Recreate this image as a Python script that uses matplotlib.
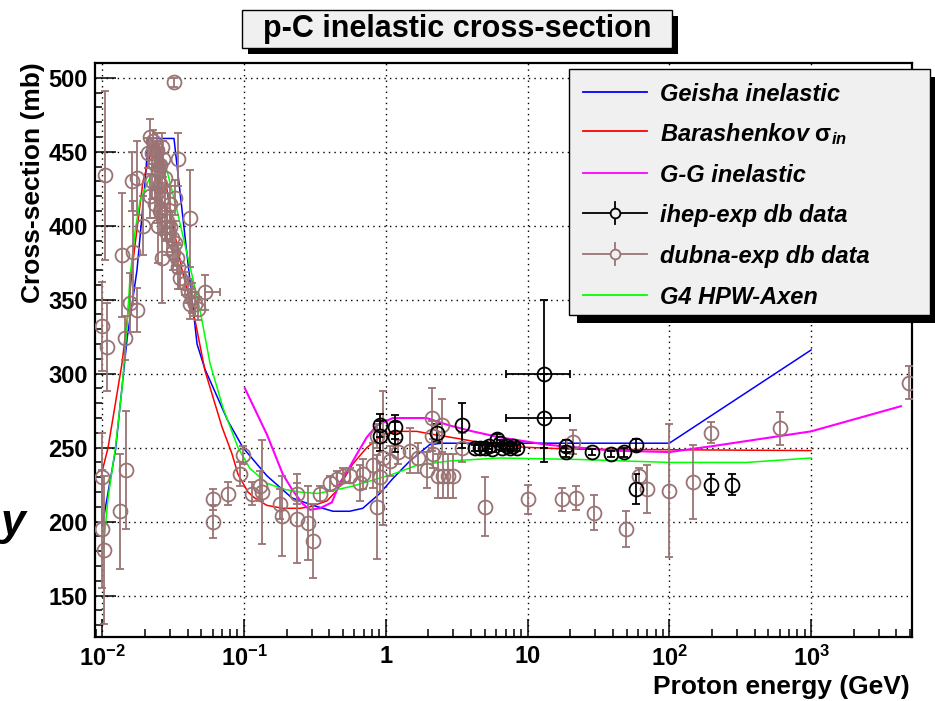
import numpy as np
import matplotlib.pyplot as plt
from matplotlib.patches import Rectangle
from matplotlib.lines import Line2D
from matplotlib.ticker import LogLocator, MultipleLocator, NullFormatter

plt.rcParams['font.family'] = ['Liberation Sans', 'DejaVu Sans']
plt.rcParams['font.weight'] = 'bold'
plt.rcParams['mathtext.fontset'] = 'custom'
plt.rcParams['mathtext.rm'] = 'Liberation Sans:bold'
plt.rcParams['mathtext.it'] = 'Liberation Sans:italic:bold'
plt.rcParams['mathtext.bf'] = 'Liberation Sans:bold'
plt.rcParams['mathtext.default'] = 'rm'

# model curves (energy in GeV, cross-section in mb)
geisha_e = [0.0100, 0.0124, 0.0150, 0.0176, 0.0201, 0.0211, 0.0321, 0.0467, 0.0531, 0.0771,
            0.0984, 0.145, 0.218, 0.306, 0.424, 0.557, 0.689, 0.907, 1.12, 1.48, 2.04, 2.5, 100, 1000]
geisha_s = [197, 248, 324, 370, 430, 459, 459, 320, 303, 268,
            250, 231, 216, 211, 207, 207, 209, 219, 229, 241, 252, 253, 253, 316]

barash_e = [0.0100, 0.0110, 0.0124, 0.0138, 0.0150, 0.0165, 0.0194, 0.0225, 0.0244, 0.0265,
            0.0301, 0.0366, 0.0452, 0.0531, 0.0700, 0.0822, 0.0908, 0.1067, 0.119, 0.145,
            0.188, 0.248, 0.292, 0.385, 0.452, 0.586, 0.735, 0.953, 1.26, 1.65, 2.14, 3.32,
            6.35, 20, 1000]
barash_s = [234, 250, 280, 307, 336, 376, 430, 452, 456, 447,
            410, 370, 336, 302, 264, 246, 232, 220, 216, 211,
            209, 209, 210, 214, 221, 239, 250, 259, 261, 261, 259, 256,
            251, 249, 248]

gg_e = [0.1016, 0.145, 0.188, 0.221, 0.260, 0.292, 0.343, 0.417, 0.474, 0.557, 0.62, 0.735,
        0.865, 1.12, 1.41, 1.94, 2.82, 4.10, 6.35, 13.6, 39.7, 100, 201, 1000, 4300]
gg_s = [290, 259, 232, 221, 212, 208, 209, 213, 226, 237, 245, 257,
        265, 270, 270, 270, 265, 261, 257, 252, 248, 247, 251, 261, 278]

axen_e = [0.0102, 0.0110, 0.0124, 0.0138, 0.0150, 0.0157, 0.0171, 0.0185, 0.0211, 0.0256,
          0.0287, 0.0338, 0.0397, 0.0490, 0.0576, 0.0711, 0.0908, 0.110, 0.145, 0.188,
          0.248, 0.327, 0.424, 0.586, 0.810, 1.12, 1.65, 2.82, 6.35, 23.2, 100, 349, 1000]
axen_s = [182, 216, 250, 290, 333, 365, 397, 417, 430, 447,
          437, 410, 381, 343, 307, 277, 250, 236, 226, 222,
          220, 219, 221, 224, 228, 232, 238, 241, 243, 242, 240, 240, 243]

# ihep-exp data
ihep_e = [0.91, 0.91, 1.16, 1.16, 2.29, 3.43, 4.24, 4.59, 4.98, 5.39, 5.66, 6.05, 6.35, 6.66,
          7.11, 7.47, 7.84, 8.38, 18.8, 18.8, 28.7, 39.1, 48.2, 58.6, 58.6, 198, 278]
ihep_s = [265, 258, 264, 257, 260, 265, 250, 250, 250, 251, 249, 256, 253, 250,
          251, 250, 251, 250, 251, 247, 247, 246, 247, 252, 222, 225, 225]
ihep_err = [8, 10, 8, 10, 6, 15, 2, 2, 2, 2, 2, 3, 2, 2,
            2, 2, 2, 2, 4, 3, 2, 2, 3, 4, 10, 7, 7]
ihep13_e = [13.0, 13.0]
ihep13_s = [300, 270]
ihep13_err = [50, 30]
ihep13_xlo = [6.0, 6.0]
ihep13_xhi = [6.8, 6.8]

# dubna-exp data
dubna_e = [0.0105, 0.0100, 0.0108, 0.0100, 0.0100, 0.0103, 0.0134, 0.0148, 0.0138, 0.0163,
           0.0176, 0.0165, 0.0176, 0.0157, 0.0145, 0.0194, 0.0321, 0.0417,
           0.0218, 0.0218, 0.0211, 0.0229, 0.0244, 0.0244, 0.0265, 0.0265, 0.0265, 0.0269,
           0.0236, 0.0236, 0.0248, 0.0248, 0.0343, 0.0343, 0.0225, 0.0225, 0.0256, 0.0256,
           0.0256, 0.0278, 0.0278, 0.0287, 0.0287, 0.0301, 0.0301, 0.0311, 0.0327, 0.0327,
           0.0316, 0.0338, 0.0354, 0.0384, 0.0403, 0.0431, 0.0452, 0.0475, 0.0417,
           0.0605, 0.0605, 0.0771, 0.0938, 0.0984, 0.114, 0.130, 0.134, 0.179, 0.185,
           0.236, 0.236, 0.282, 0.306, 0.343, 0.404, 0.452, 0.498, 0.557, 0.657, 0.689,
           0.810, 0.865, 0.865, 0.907, 0.953, 1.07, 1.22, 1.48, 1.68, 1.94, 2.11, 2.11,
           2.14, 2.32, 2.48, 2.52, 2.73, 2.97, 3.43, 4.98, 10.0, 17.6, 21.8, 20.8, 29.6,
           49.8, 61.5, 70.0, 100, 148, 198, 605, 4900]
dubna_s = [434, 332, 318, 230, 195, 181, 207, 235, 380, 430,
           432, 382, 343, 348, 324, 400, 497, 405,
           460, 420, 449, 457, 451, 422, 453, 419, 378, 445,
           442, 415, 437, 400, 445, 372, 430, 449, 428, 410,
           441, 432, 408, 403, 395, 399, 415, 392, 388, 419,
           382, 378, 365, 361, 356, 351, 347, 344, 347,
           215, 200, 219, 232, 245, 219, 224, 220, 212, 204,
           219, 202, 199, 187, 219, 226, 229, 231, 231, 226, 232,
           238, 210, 258, 230, 243, 241, 247, 248, 243, 235, 270, 258,
           246, 231, 265, 231, 231, 231, 250, 210, 215, 215, 216, 254, 206,
           195, 231, 222, 221, 227, 260, 263, 294]
dubna_err = [57, 30, 30, 30, 40, 50, 39, 40, 42, 20,
             25, 35, 15, 20, 15, 20, 3, 33,
             12, 15, 10, 8, 12, 20, 10, 25, 30, 12,
             15, 10, 15, 25, 18, 15, 12, 10, 20, 15,
             12, 10, 18, 12, 15, 10, 12, 10, 15, 12,
             12, 10, 8, 8, 8, 10, 8, 8, 10,
             7, 11, 8, 8, 6, 8, 10, 35, 10, 27,
             7, 30, 25, 25, 5, 5, 5, 5, 5, 12, 10,
             15, 35, 8, 10, 45, 10, 8, 15, 10, 12, 20, 10,
             10, 15, 18, 15, 15, 15, 10, 20, 10, 8, 8, 8, 12,
             12, 5, 16, 45, 25, 7, 11, 11]
dubna_x_e = [0.0531]
dubna_x_s = [355]
dubna_x_err = [12]
dubna_x_hi = [0.015]

legend_labels = ['Geisha inelastic', r'Barashenkov $\sigma_{\mathit{in}}$', 'G-G inelastic',
                 'ihep-exp db data', 'dubna-exp db data', 'G4 HPW-Axen']

BLUE, RED, MAGENTA, GREEN, BROWN = '#0000ff', '#ff0000', '#ff00ff', '#00ff00', '#9a7474'
legend_colors = [BLUE, RED, MAGENTA, 'black', BROWN, GREEN]
legend_kinds = ['line', 'line', 'line', 'err', 'err', 'line']

W, H = 935, 701
fig = plt.figure(figsize=(W / 100, H / 100), dpi=100)
ax = fig.add_axes([95 / W, 1 - 637 / H, (912 - 95) / W, (637 - 63) / H])


def fx(px):
    return px / W


def fy(py):
    return 1 - py / H


ax.plot(geisha_e, geisha_s, color=BLUE, lw=1.1, zorder=3)
ax.plot(barash_e, barash_s, color=RED, lw=1.1, zorder=3)
ax.plot(gg_e, gg_s, color=MAGENTA, lw=1.5, zorder=3)
ax.plot(axen_e, axen_s, color=GREEN, lw=1.1, zorder=3)

pt = dict(fmt='o', ms=10, mfc='none', mew=1.3, elinewidth=1.3, capsize=3, capthick=1.3, zorder=4)
ax.errorbar(dubna_e, dubna_s, yerr=dubna_err, mec=BROWN, ecolor=BROWN, **pt)
ax.errorbar(dubna_x_e, dubna_x_s, yerr=dubna_x_err, xerr=[[0], dubna_x_hi], mec=BROWN, ecolor=BROWN, **pt)
ax.errorbar(ihep_e, ihep_s, yerr=ihep_err, mec='black', ecolor='black', **pt)
ax.errorbar(ihep13_e, ihep13_s, yerr=ihep13_err, xerr=[ihep13_xlo, ihep13_xhi],
            mec='black', ecolor='black', **pt)

ax.set_xscale('log')
ax.set_xlim(0.0089, 5150)
ax.set_ylim(122, 510)
ax.set_xticks([0.01, 0.1, 1, 10, 100, 1000],
              [r'$10^{-2}$', r'$10^{-1}$', '1', '10', r'$10^{2}$', r'$10^{3}$'])
ax.xaxis.set_minor_locator(LogLocator(base=10, subs=np.arange(2, 10)))
ax.xaxis.set_minor_formatter(NullFormatter())
ax.set_yticks(np.arange(150, 501, 50))
ax.yaxis.set_minor_locator(MultipleLocator(10))
ax.tick_params(which='both', direction='in', top=False, right=False, width=1.1)
ax.tick_params(axis='y', which='major', length=15, labelsize=17, pad=5)
ax.tick_params(axis='y', which='minor', length=5)
ax.tick_params(axis='x', which='major', length=13, labelsize=17, pad=6)
ax.tick_params(axis='x', which='minor', length=6)
for s in ax.spines.values():
    s.set_linewidth(1.6)
ax.grid(True, which='major', color='black', linestyle=(0, (1, 3)), lw=1.0)

fig.text(fx(33), fy(62), 'Cross-section (mb)', fontsize=19, rotation=90, ha='center', va='top')
fig.text(fx(910), fy(694), 'Proton energy (GeV)', fontsize=19, ha='right', va='baseline')
fig.text(fx(1), fy(524), 'y', fontsize=32, fontstyle='italic', ha='left', va='center')

# title box with shadow
fig.add_artist(Rectangle((fx(248), fy(54)), 430 / W, 38 / H, transform=fig.transFigure,
                         facecolor='black', edgecolor='none', zorder=5))
fig.add_artist(Rectangle((fx(242), fy(48)), 430 / W, 38 / H, transform=fig.transFigure,
                         facecolor='#f0f0f0', edgecolor='black', lw=1, zorder=6))
fig.text(fx(457), fy(29), 'p-C inelastic cross-section', fontsize=22, ha='center', va='center', zorder=7)

# legend box with shadow
fig.add_artist(Rectangle((fx(577), fy(323)), 361 / W, 246 / H, transform=fig.transFigure,
                         facecolor='black', edgecolor='none', zorder=5))
fig.add_artist(Rectangle((fx(569), fy(315)), 361 / W, 246 / H, transform=fig.transFigure,
                         facecolor='#f0f0f0', edgecolor='black', lw=1, zorder=6))
rows = [92, 131, 173, 213, 254, 295]
for yy, lab, col, kind in zip(rows, legend_labels, legend_colors, legend_kinds):
    fig.add_artist(Line2D([fx(583), fx(647)], [fy(yy), fy(yy)], color=col, lw=1.3,
                          transform=fig.transFigure, zorder=7))
    if kind == 'err':
        fig.add_artist(Line2D([fx(615), fx(615)], [fy(yy - 11), fy(yy + 11)], color=col, lw=1.3,
                              transform=fig.transFigure, zorder=7))
        fig.add_artist(Line2D([fx(615)], [fy(yy)], marker='o', ms=7, mfc='#f0f0f0', mec=col, mew=1.3,
                              transform=fig.transFigure, zorder=8))
    fig.text(fx(660), fy(yy), lab, fontsize=17, fontstyle='italic', ha='left', va='center_baseline',
             zorder=8)

fig.savefig('out.png', dpi=100)
